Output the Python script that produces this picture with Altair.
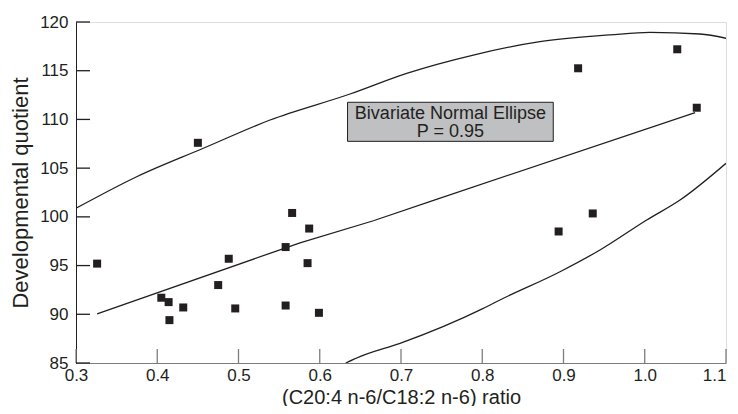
import altair as alt
import pandas as pd

# Scatter data
ratio = [0.326, 0.405, 0.414, 0.415, 0.432, 0.450, 0.475, 0.488, 0.496, 0.558,
         0.558, 0.566, 0.585, 0.587, 0.599, 0.894, 0.918, 0.936, 1.040, 1.064]
dq = [95.2, 91.7, 91.25, 89.4, 90.7, 107.6, 93.0, 95.7, 90.6, 90.9,
      96.9, 100.4, 95.25, 98.8, 90.15, 98.5, 115.25, 100.35, 117.2, 111.2]

# Regression line
reg_x = [0.326, 0.5757, 0.666, 0.740, 1.062]
reg_y = [90.04, 97.34, 99.6, 101.7, 110.7]

# Ellipse upper branch
up_x = [0.300, 0.3747, 0.4567, 0.5388, 0.6372, 0.707, 0.789, 0.871, 0.9572, 1.0065, 1.068, 1.100]
up_y = [100.88, 104.12, 107.04, 109.94, 112.61, 114.73, 116.61, 117.98, 118.67, 118.94, 118.77, 118.33]

# Ellipse lower branch
lo_x = [0.632, 0.6495, 0.6988, 0.8013, 0.8218, 0.8957, 0.9449, 1.0024, 1.0434, 1.100]
lo_y = [85.0, 85.65, 87.02, 90.61, 91.47, 94.37, 96.6, 99.68, 101.73, 105.5]

x_ticks = [0.3, 0.4, 0.5, 0.6, 0.7, 0.8, 0.9, 1.0, 1.1]
y_ticks = [85, 90, 95, 100, 105, 110, 115, 120]

box_x = [0.6342, 0.8874]
box_y = [107.75, 111.76]
box_lines = ["Bivariate Normal Ellipse", "P = 0.95"]
box_line_y = [110.6, 108.7]

W, H = 650, 341
FONT = "Liberation Sans"
INK = "#231f20"
GRAY = "#7d7d7d"

xs = alt.Scale(domain=[0.3, 1.1], nice=False, zero=False)
ys = alt.Scale(domain=[85, 120], nice=False, zero=False)

xaxis = alt.Axis(values=x_ticks, format=".1f", ticks=False, grid=False,
                 labelFlush=False,
                 labelAlign=alt.ExprRef(expr="datum.value > 1.05 ? 'right' : 'center'"),
                 domainColor=GRAY, domainWidth=1.2, labelFont=FONT, labelFontSize=17,
                 labelColor=INK, labelPadding=4, title="(C20:4 n-6/C18:2 n-6) ratio",
                 titleFont=FONT, titleFontSize=20, titleFontWeight="normal", titleColor=INK,
                 titleBaseline="alphabetic", titleY=40)
yaxis = alt.Axis(values=y_ticks, format="d", ticks=False, grid=False, labelFlush=False,
                 domainColor=INK, domainWidth=1, labelFont=FONT, labelFontSize=17,
                 labelColor=INK, labelPadding=8, title="Developmental quotient",
                 titleFont=FONT, titleFontSize=22, titleFontWeight="normal", titleColor=INK,
                 titleBaseline="alphabetic", titleX=-49, titleY=H / 2, titleAngle=270)

pts = pd.DataFrame({"x": ratio, "y": dq})
base_pts = alt.Chart(pts).mark_square(size=64, color=INK, opacity=1, filled=True).encode(
    x=alt.X("x:Q", scale=xs, axis=xaxis),
    y=alt.Y("y:Q", scale=ys, axis=yaxis),
)

def curve(xv, yv, interp):
    df = pd.DataFrame({"x": xv, "y": yv, "o": list(range(len(xv)))})
    return alt.Chart(df).mark_line(color=INK, strokeWidth=1.3, clip=True, interpolate=interp).encode(
        x=alt.X("x:Q", scale=xs), y=alt.Y("y:Q", scale=ys), order="o:Q")

reg = curve(reg_x, reg_y, "linear")
up = curve(up_x, up_y, "monotone")
lo = curve(lo_x, lo_y, "monotone")

xt = alt.Chart(pd.DataFrame({"t": x_ticks})).mark_rule(color=GRAY, strokeWidth=1.3).encode(
    x=alt.X("t:Q", scale=xs), y=alt.value(H), y2=alt.value(H - 14))
yt = alt.Chart(pd.DataFrame({"t": y_ticks})).mark_rule(color=INK, strokeWidth=1.3).encode(
    y=alt.Y("t:Q", scale=ys), x=alt.value(0), x2=alt.value(14))

box = alt.Chart(pd.DataFrame({"x": [box_x[0]], "x2": [box_x[1]], "y": [box_y[0]], "y2": [box_y[1]]})).mark_rect(
    fill="#bfc0c2", stroke=INK, strokeWidth=1).encode(
    x=alt.X("x:Q", scale=xs), x2="x2:Q", y=alt.Y("y:Q", scale=ys), y2="y2:Q")
box_txt = alt.Chart(pd.DataFrame({"t": box_lines, "y": box_line_y,
                                  "x": [(box_x[0] + box_x[1]) / 2] * 2})).mark_text(
    font=FONT, fontSize=18, color=INK, align="center", baseline="middle").encode(
    x=alt.X("x:Q", scale=xs), y=alt.Y("y:Q", scale=ys), text="t:N")

chart = alt.layer(up, lo, reg, box, box_txt, xt, yt, base_pts).properties(
    width=W, height=H,
    padding={"left": 68, "top": 14, "right": 4, "bottom": 43},
    autosize=alt.AutoSizeParams(type="none"),
).configure_view(stroke=None).configure(background="white")

chart.save("out.html", embed_options={"renderer": "svg", "actions": False})
